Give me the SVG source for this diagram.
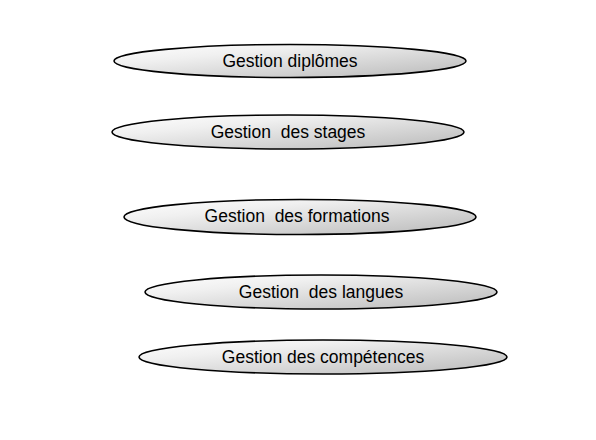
<svg xmlns="http://www.w3.org/2000/svg" width="596" height="440" viewBox="0 0 596 440">
<defs>
<linearGradient id="g" x1="0" y1="0" x2="1" y2="1">
<stop offset="0" stop-color="#ffffff"/>
<stop offset="0.3" stop-color="#f0f0f0"/>
<stop offset="1" stop-color="#b8b8b8"/>
</linearGradient>
</defs>
<style>
.e{fill:url(#g);stroke:#000;stroke-width:1.6}
.t{font-family:"Liberation Sans",Arial,sans-serif;font-size:17.5px;fill:#000;text-anchor:middle;white-space:pre}
</style>
<rect width="596" height="440" fill="#fff"/>
<g id="n1"><ellipse class="e" cx="290" cy="61" rx="176" ry="16.5"/><text class="t" x="290" y="67">Gestion diplômes</text></g>
<g id="n2"><ellipse class="e" cx="288" cy="132" rx="176" ry="17"/><text class="t" x="288" y="138" xml:space="preserve">Gestion  des stages</text></g>
<g id="n3"><ellipse class="e" cx="300" cy="217" rx="176" ry="17.5"/><text class="t" x="297" y="222" xml:space="preserve">Gestion  des formations</text></g>
<g id="n4"><ellipse class="e" cx="321" cy="292" rx="176" ry="17"/><text class="t" x="321" y="298" xml:space="preserve">Gestion  des langues</text></g>
<g id="n5"><ellipse class="e" cx="323" cy="357" rx="184" ry="17"/><text class="t" x="323" y="363">Gestion des compétences</text></g>
<g id="connectors"/>
</svg>
